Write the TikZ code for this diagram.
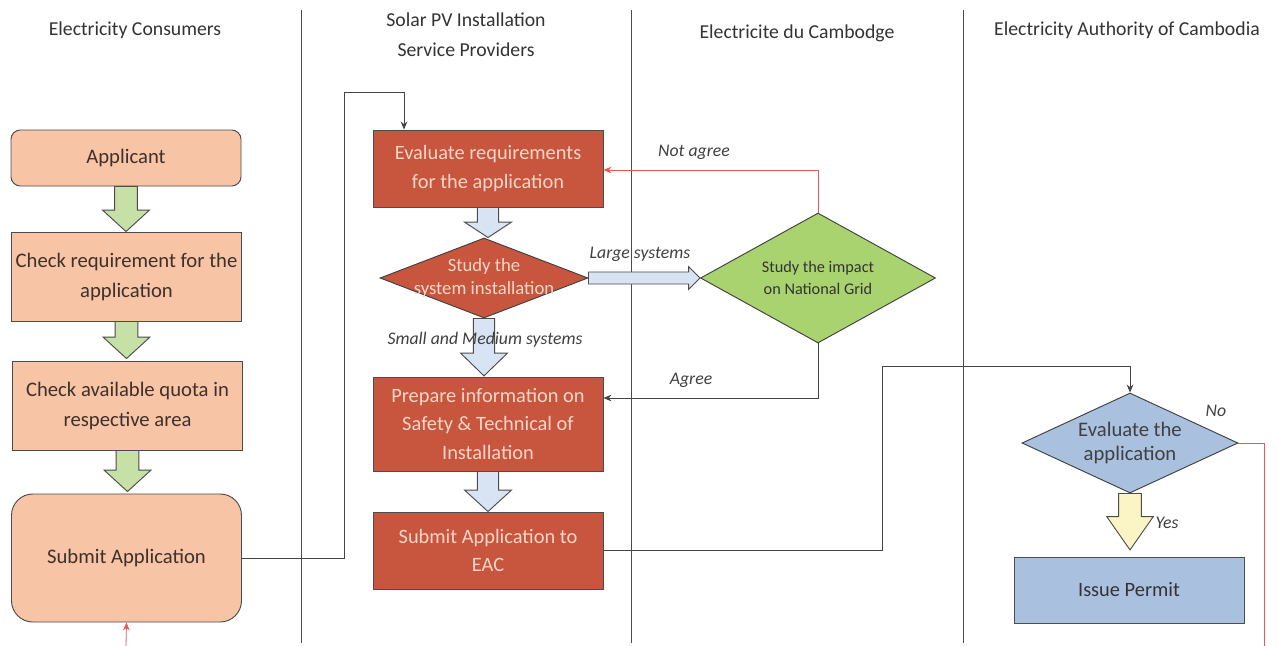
\documentclass[tikz,border=0pt]{standalone}
\usepackage{fontspec}
\setmainfont{Carlito}
\usetikzlibrary{shapes.geometric,arrows.meta,calc}
\def\pxu{0.75pt}
\definecolor{salmon}{HTML}{F8C4A6}
\definecolor{redbox}{HTML}{C8553D}
\definecolor{redtxt}{HTML}{F7D6C8}
\definecolor{greenarr}{HTML}{C6E0A6}
\definecolor{bluearr}{HTML}{D8E4F4}
\definecolor{greendia}{HTML}{A9D36E}
\definecolor{bluebox}{HTML}{A9C1DE}
\definecolor{yelarr}{HTML}{FBF4C4}
\definecolor{linegray}{HTML}{444444}
\definecolor{redline}{HTML}{E45A5A}
\definecolor{darktxt}{HTML}{3E302B}
\newcommand\fatdown[7]{%
  \path[#1] let \p1=(#2.south), \p2=(#3.north) in
  (\x1-#4,\y1) -- (\x1+#4,\y1) -- (\x1+#4,\y2+#7+#6) -- (\x1+#5,\y2+#7+#6) --
  (\x1,\y2+#7) -- (\x1-#5,\y2+#7+#6) -- (\x1-#4,\y2+#7+#6) -- cycle;}
\begin{document}
\begin{tikzpicture}[x=0.75pt,y=-0.75pt,
  hdr/.style={font=\fontsize{14.8}{22.5}\selectfont, text=black!80, align=center},
  lbl/.style={font=\fontsize{13.3}{15}\selectfont\itshape, text=black!75},
  cbox/.style={draw=black!70, fill=salmon, line width=0.7pt, text=darktxt, align=center,
    font=\fontsize{15.5}{22.5}\selectfont, minimum width=230*\pxu, inner sep=0pt},
  rbox/.style={draw=black!70, fill=redbox, line width=0.7pt, text=redtxt, align=center,
    font=\fontsize{15.3}{21.5}\selectfont, minimum width=230*\pxu, inner sep=0pt},
  dia/.style={diamond, draw=black!75, line width=0.7pt, align=center, inner sep=0pt},
  conn/.style={draw=linegray, line width=0.6pt},
  rconn/.style={draw=redline, line width=0.6pt},
  tip/.style={-{Stealth[length=6pt,width=5pt]}},
  farrow/.style={draw=black!70, line width=0.7pt}
]
\fill[white] (0,0) rectangle (1278,646);
\useasboundingbox (0,0) rectangle (1278,646);
% lanes
\foreach \xx in {301,631,963} \draw[black!70, line width=0.6pt] (\xx,10) -- (\xx,643);
\node[hdr] (h1) at (135,30) {Electricity Consumers};
\node[hdr] (h2) at (466,35) {Solar PV Installation\\Service Providers};
\node[hdr] (h3) at (797,33) {Electricite du Cambodge};
\node[hdr] (h4) at (1127,30) {Electricity Authority of Cambodia};
% lane 1
\node[cbox, rounded corners=7pt, minimum height=56*\pxu] (app) at (126,158) {Applicant};
\node[cbox, minimum height=89*\pxu] (chk) at (126.5,276.5) {Check requirement for the\\application};
\node[cbox, minimum height=89*\pxu] (quo) at (127.5,405.5) {Check available quota in\\respective area};
\node[cbox, rounded corners=16pt, minimum height=128*\pxu] (sub) at (126.5,558) {Submit Application};
% lane 2
\node[rbox, minimum height=77*\pxu] (evr) at (488,168.5) {Evaluate requirements\\for the application};
\node[dia, fill=redbox, minimum width=208*\pxu, minimum height=80*\pxu, aspect=2.6,
  label={[align=center, text=redtxt, font=\fontsize{14}{17}\selectfont]center:{Study the\\system installation}}] (stu) at (484,278) {};
\node[rbox, minimum height=94*\pxu] (prep) at (488,424) {Prepare information on\\Safety \& Technical of\\Installation};
\node[rbox, minimum height=77*\pxu] (seac) at (488,550.5) {Submit Application to\\EAC};
% lane 3
\node[dia, fill=greendia, text=black!80, font=\fontsize{12.2}{17}\selectfont,
  minimum width=235*\pxu, minimum height=130*\pxu, aspect=1.8] (imp) at (818,278) {Study the impact\\on National Grid};
% lane 4
\node[dia, fill=bluebox, text=black!75, font=\fontsize{15.5}{18}\selectfont,
  minimum width=216*\pxu, minimum height=100*\pxu, aspect=2.16] (eva) at (1130,443) {Evaluate the\\application};
\node[cbox, fill=bluebox, text=black!80, font=\fontsize{15.3}{18}\selectfont, minimum height=66*\pxu] (perm) at (1129,590) {Issue Permit};
% fat arrows
\fatdown{farrow, fill=greenarr}{app}{chk}{8.5pt}{17.5pt}{16pt}{0pt}
\fatdown{farrow, fill=greenarr}{chk}{quo}{8.5pt}{17.5pt}{16pt}{1.5pt}
\fatdown{farrow, fill=greenarr}{quo}{sub}{8.5pt}{17.5pt}{16pt}{1.5pt}
\fatdown{farrow, fill=bluearr}{evr}{stu}{8pt}{17.5pt}{11.5pt}{0pt}
\fatdown{farrow, fill=bluearr}{stu}{prep}{8pt}{17.5pt}{17pt}{0.5pt}
\fatdown{farrow, fill=bluearr}{prep}{seac}{8pt}{17.5pt}{16pt}{0pt}
\fatdown{farrow, fill=yelarr}{eva}{perm}{8.5pt}{17.5pt}{25pt}{5pt}
\path[farrow, fill=bluearr] let \p1=(stu.east), \p2=(imp.west) in
  (\x1,\y1+4.5pt) -- (\x2-8.5pt,\y1+4.5pt) -- (\x2-8.5pt,\y1+8.5pt) -- (\x2,\y1) --
  (\x2-8.5pt,\y1-8.5pt) -- (\x2-8.5pt,\y1-4.5pt) -- (\x1,\y1-4.5pt) -- cycle;
% connectors
\coordinate (k1) at (404,92);
\draw[conn, tip] (sub.east) -| (344,92) -- (k1) -- (k1 |- evr.north);
\draw[rconn, tip] (imp.north) |- ($(evr.east)+(0,1.5)$);
\draw[conn, tip] (imp.south) |- ($(prep.east)+(0,-26)$);
\coordinate (k2) at (882,366);
\draw[conn, tip] (seac.east) -| (k2) -| (eva.north);
\coordinate (k3) at (1264,646);
\draw[rconn] (eva.east) -| (k3);
\coordinate (k4) at (126,646);
\draw[rconn, tip] (k4) -- (sub.south);
% labels
\node[lbl] (l1) at (694,152) {Not agree};
\node[lbl] (l2) at (640,254) {Large systems};
\node[lbl] (l3) at (485,340) {Small and Medium systems};
\node[lbl] (l4) at (691,380) {Agree};
\node[lbl] (l5) at (1216,411) {No};
\node[lbl] (l6) at (1167,523) {Yes};
\end{tikzpicture}
\end{document}
